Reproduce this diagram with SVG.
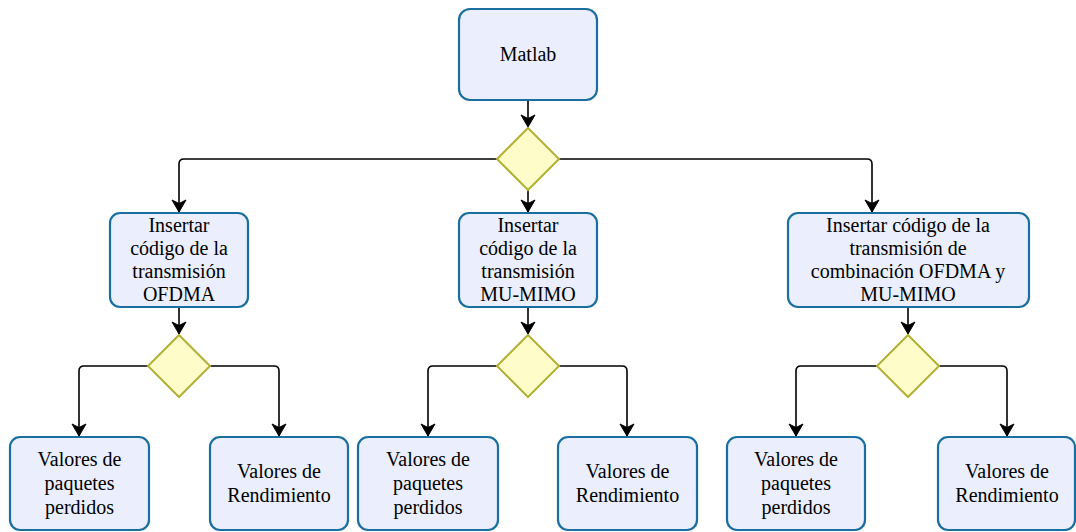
<svg xmlns="http://www.w3.org/2000/svg" width="1076" height="532" viewBox="0 0 1076 532">
<defs>
<style>
.box{fill:#eaeefd;stroke:#1a6fa0;stroke-width:2.2}
.dia{fill:#fefcc8;stroke:#b2b035;stroke-width:2}
.t{font-family:"Liberation Serif","Times New Roman",serif;font-size:20px;fill:#000;text-anchor:middle}
.e{fill:none;stroke:#000;stroke-width:1.6;marker-end:url(#arr)}
</style>
<marker id="arr" markerUnits="userSpaceOnUse" markerWidth="16" markerHeight="16" viewBox="0 0 16 16" refX="13" refY="8" orient="auto">
<path d="M1,1 L13,8 L1,15 L4.5,8 z" fill="#000" stroke="#000" stroke-width="1"/>
</marker>
</defs>
<rect width="1076" height="532" fill="#fff"/>
<g id="connectors">
<path class="e" d="M528,100 V127"/>
<path class="e" d="M497,159 H184 Q179,159 179,164 V212"/>
<path class="e" d="M528,190 V212"/>
<path class="e" d="M559,159 H867 Q872,159 872,164 V212"/>
<path class="e" d="M179,307 V334"/>
<path class="e" d="M528,307 V334"/>
<path class="e" d="M908,307 V334"/>
<path class="e" d="M148,366 H84 Q79,366 79,371 V436"/>
<path class="e" d="M210,366 H274 Q279,366 279,371 V436"/>
<path class="e" d="M497,366 H433 Q428,366 428,371 V436"/>
<path class="e" d="M559,366 H622 Q627,366 627,371 V436"/>
<path class="e" d="M877,366 H801 Q796,366 796,371 V436"/>
<path class="e" d="M939,366 H1002 Q1007,366 1007,371 V436"/>
</g>
<g id="matlab">
<rect class="box" x="459" y="9" width="138" height="91" rx="11"/>
<text class="t" x="528" y="61">Matlab</text>
</g>
<g id="d0"><path class="dia" d="M528,128 L559,159 L528,190 L497,159 Z"/></g>
<g id="ofdma">
<rect class="box" x="110" y="213" width="138" height="94" rx="10"/>
<text class="t" x="179" y="232">Insertar</text>
<text class="t" x="179" y="255">código de la</text>
<text class="t" x="179" y="278">transmisión</text>
<text class="t" x="179" y="301">OFDMA</text>
</g>
<g id="mumimo">
<rect class="box" x="459" y="213" width="138" height="94" rx="10"/>
<text class="t" x="528" y="232">Insertar</text>
<text class="t" x="528" y="255">código de la</text>
<text class="t" x="528" y="278">transmisión</text>
<text class="t" x="528" y="301">MU-MIMO</text>
</g>
<g id="combo">
<rect class="box" x="788" y="213" width="241" height="94" rx="10"/>
<text class="t" x="908" y="232">Insertar código de la</text>
<text class="t" x="908" y="255">transmisión de</text>
<text class="t" x="908" y="278">combinación OFDMA y</text>
<text class="t" x="908" y="301">MU-MIMO</text>
</g>
<g id="d1"><path class="dia" d="M179,335 L210,366 L179,397 L148,366 Z"/></g>
<g id="d2"><path class="dia" d="M528,335 L559,366 L528,397 L497,366 Z"/></g>
<g id="d3"><path class="dia" d="M908,335 L939,366 L908,397 L877,366 Z"/></g>
<g id="paq1">
<rect class="box" x="10" y="437" width="139" height="93" rx="10"/>
<text class="t" x="79.5" y="466">Valores de</text>
<text class="t" x="79.5" y="490">paquetes</text>
<text class="t" x="79.5" y="514">perdidos</text>
</g>
<g id="ren1">
<rect class="box" x="210" y="437" width="138" height="93" rx="10"/>
<text class="t" x="279" y="478">Valores de</text>
<text class="t" x="279" y="502">Rendimiento</text>
</g>
<g id="paq2">
<rect class="box" x="358" y="437" width="140" height="93" rx="10"/>
<text class="t" x="428" y="466">Valores de</text>
<text class="t" x="428" y="490">paquetes</text>
<text class="t" x="428" y="514">perdidos</text>
</g>
<g id="ren2">
<rect class="box" x="558" y="437" width="139" height="93" rx="10"/>
<text class="t" x="627.5" y="478">Valores de</text>
<text class="t" x="627.5" y="502">Rendimiento</text>
</g>
<g id="paq3">
<rect class="box" x="727" y="437" width="138" height="93" rx="10"/>
<text class="t" x="796" y="466">Valores de</text>
<text class="t" x="796" y="490">paquetes</text>
<text class="t" x="796" y="514">perdidos</text>
</g>
<g id="ren3">
<rect class="box" x="938" y="437" width="137" height="93" rx="10"/>
<text class="t" x="1007" y="478">Valores de</text>
<text class="t" x="1007" y="502">Rendimiento</text>
</g>
</svg>
